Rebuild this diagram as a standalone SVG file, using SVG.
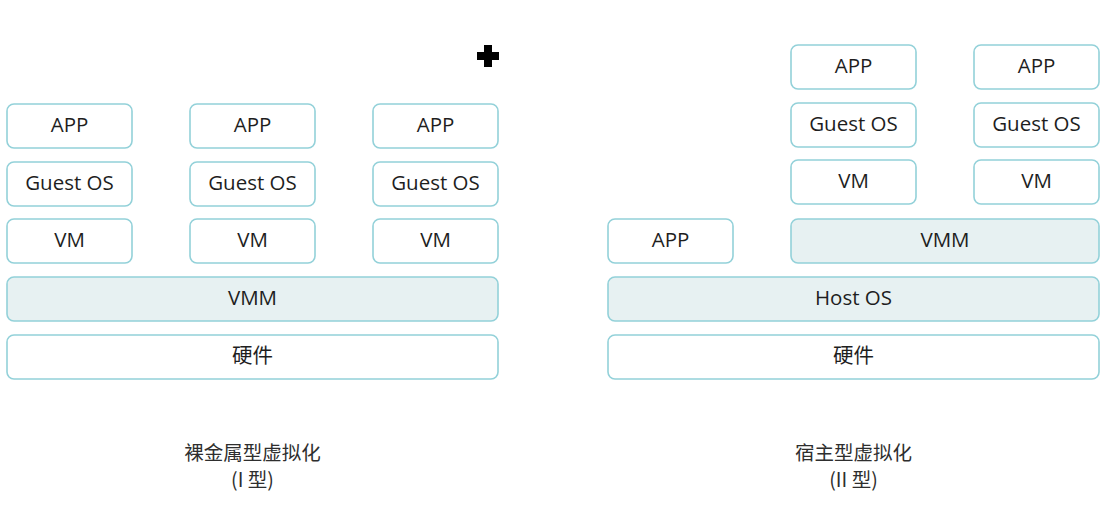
<svg xmlns="http://www.w3.org/2000/svg" width="1109" height="522" viewBox="0 0 1109 522">
<style>
.b{fill:#ffffff;stroke:#93d1d9;stroke-width:1.6}
.h{fill:#e7f1f2;stroke:#93d1d9;stroke-width:1.6}
.t{font-family:"Open Sans","Noto Sans CJK SC",sans-serif;font-size:20.5px;fill:#1e1e1e;text-anchor:middle;dominant-baseline:central}
.c{font-family:"Noto Sans CJK SC","Noto Sans",sans-serif;font-size:19.5px;fill:#2e2e2e;text-anchor:middle}
</style>
<rect width="1109" height="522" fill="#ffffff"/>
<g id="l-app1"><rect class="b" x="7" y="104" width="125" height="44" rx="7"/><text class="t" x="69.5" y="124">APP</text></g>
<g id="l-app2"><rect class="b" x="190" y="104" width="125" height="44" rx="7"/><text class="t" x="252.5" y="124">APP</text></g>
<g id="l-app3"><rect class="b" x="373" y="104" width="125" height="44" rx="7"/><text class="t" x="435.5" y="124">APP</text></g>
<g id="l-os1"><rect class="b" x="7" y="162" width="125" height="44" rx="7"/><text class="t" x="69.5" y="182">Guest OS</text></g>
<g id="l-os2"><rect class="b" x="190" y="162" width="125" height="44" rx="7"/><text class="t" x="252.5" y="182">Guest OS</text></g>
<g id="l-os3"><rect class="b" x="373" y="162" width="125" height="44" rx="7"/><text class="t" x="435.5" y="182">Guest OS</text></g>
<g id="l-vm1"><rect class="b" x="7" y="219" width="125" height="44" rx="7"/><text class="t" x="69.5" y="239">VM</text></g>
<g id="l-vm2"><rect class="b" x="190" y="219" width="125" height="44" rx="7"/><text class="t" x="252.5" y="239">VM</text></g>
<g id="l-vm3"><rect class="b" x="373" y="219" width="125" height="44" rx="7"/><text class="t" x="435.5" y="239">VM</text></g>
<g id="l-vmm"><rect class="h" x="7" y="277" width="491" height="44" rx="7"/><text class="t" x="252.5" y="297">VMM</text></g>
<g id="l-hw"><rect class="b" x="7" y="335" width="491" height="44" rx="7"/><text class="t" x="252.5" y="355">硬件</text></g>
<g id="r-app1"><rect class="b" x="791" y="45" width="125" height="44" rx="7"/><text class="t" x="853.5" y="65">APP</text></g>
<g id="r-app2"><rect class="b" x="974" y="45" width="125" height="44" rx="7"/><text class="t" x="1036.5" y="65">APP</text></g>
<g id="r-os1"><rect class="b" x="791" y="103" width="125" height="44" rx="7"/><text class="t" x="853.5" y="123">Guest OS</text></g>
<g id="r-os2"><rect class="b" x="974" y="103" width="125" height="44" rx="7"/><text class="t" x="1036.5" y="123">Guest OS</text></g>
<g id="r-vm1"><rect class="b" x="791" y="160" width="125" height="44" rx="7"/><text class="t" x="853.5" y="180">VM</text></g>
<g id="r-vm2"><rect class="b" x="974" y="160" width="125" height="44" rx="7"/><text class="t" x="1036.5" y="180">VM</text></g>
<g id="r-app0"><rect class="b" x="608" y="219" width="125" height="44" rx="7"/><text class="t" x="670.5" y="239">APP</text></g>
<g id="r-vmm"><rect class="h" x="791" y="219" width="308" height="44" rx="7"/><text class="t" x="945" y="239">VMM</text></g>
<g id="r-host"><rect class="h" x="608" y="277" width="491" height="44" rx="7"/><text class="t" x="853.5" y="297">Host OS</text></g>
<g id="r-hw"><rect class="b" x="608" y="335" width="491" height="44" rx="7"/><text class="t" x="853.5" y="355">硬件</text></g>
<g id="captions">
<text class="c" x="252.5" y="460">裸金属型虚拟化</text>
<text class="c" x="252.5" y="487">(I 型)</text>
<text class="c" x="853.5" y="460">宿主型虚拟化</text>
<text class="c" x="853.5" y="487">(II 型)</text>
</g>
<g id="connectors"></g>
<path d="M484 45h8v7h7v8h-7v7h-8v-7h-7v-8h7z" fill="#000"/>
</svg>
